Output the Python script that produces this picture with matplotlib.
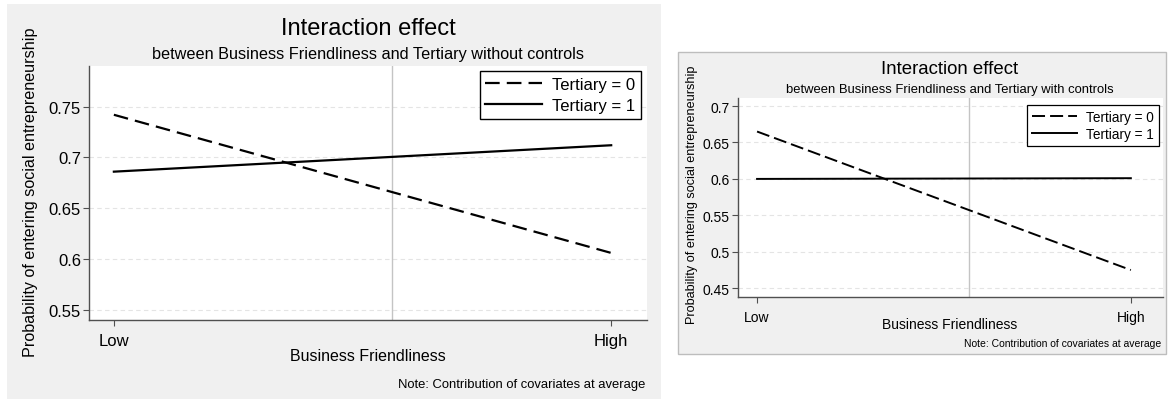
import matplotlib
matplotlib.use("Agg")
import matplotlib.pyplot as plt
from matplotlib.patches import Rectangle

plt.rcParams["font.family"] = ["Liberation Sans", "DejaVu Sans"]

W, H = 1168, 402

# data
levels = ["Low", "High"]
level_pos = [0, 1]
left_t0 = [0.742, 0.606]
left_t1 = [0.686, 0.712]
left_xline = 0.56
right_t0 = [0.665, 0.475]
right_t1 = [0.600, 0.601]
right_xline = 0.567
left_yticks = [0.55, 0.6, 0.65, 0.7, 0.75]
left_yticklabels = ["0.55", "0.6", "0.65", "0.7", "0.75"]
right_yticks = [0.45, 0.5, 0.55, 0.6, 0.65, 0.7]
right_yticklabels = ["0.45", "0.5", "0.55", "0.6", "0.65", "0.7"]


def box(x0, y0, x1, y1):
    # pixel box (top-left origin) -> figure fraction [l, b, w, h]
    return [x0 / W, (H - y1) / H, (x1 - x0) / W, (y1 - y0) / H]


def fx(x):
    return x / W


def fy(y):
    return (H - y) / H


fig = plt.figure(figsize=(W / 100, H / 100), dpi=100)
fig.patch.set_facecolor("white")

# panel backgrounds
l, b, w, h = box(7, 5, 661, 400)
fig.patches.append(Rectangle((l, b), w, h, transform=fig.transFigure,
                             facecolor="#f0f0f0", edgecolor="none", zorder=-5))
l, b, w, h = box(678, 53, 1166, 355)
fig.patches.append(Rectangle((l, b), w, h, transform=fig.transFigure,
                             facecolor="#f0f0f0", edgecolor="#bdbdbd", lw=1.0, zorder=-5))


def panel(ax, t0, t1, xline, yticks, yticklabels, ylim, xlim, fs, lw, dash):
    ax.set_facecolor("white")
    for yt in yticks:
        ax.axhline(yt, color="#e4e4e4", lw=0.8, ls=(0, (4, 3)), zorder=1)
    ax.axvline(xline, color="#c4c4c4", lw=1.0, zorder=1)
    ax.plot(level_pos, t0, color="black", lw=lw, dashes=dash, label="Tertiary = 0", zorder=3)
    ax.plot(level_pos, t1, color="black", lw=lw, label="Tertiary = 1", zorder=3)
    ax.set_xlim(*xlim)
    ax.set_ylim(*ylim)
    ax.set_xticks(level_pos)
    ax.set_xticklabels(levels)
    ax.set_yticks(yticks)
    ax.set_yticklabels(yticklabels)
    for s in ["top", "right"]:
        ax.spines[s].set_visible(False)
    for s in ["left", "bottom"]:
        ax.spines[s].set_color("#505050")
        ax.spines[s].set_linewidth(1.0)
    ax.tick_params(axis="both", colors="#505050", labelcolor="black",
                   length=4.3, width=0.8, labelsize=fs["tick"])
    ax.tick_params(axis="y", pad=1.5)
    ax.tick_params(axis="x", pad=5)


# left panel
axL = fig.add_axes(box(89, 67, 647, 321))
panel(axL, left_t0, left_t1, left_xline, left_yticks, left_yticklabels,
      (0.540, 0.790), (-0.05, 1.072), {"tick": 12}, 1.6, (6.6, 3.2))
axL.legend(loc="upper right", bbox_to_anchor=(1 - 6 / 558, 1 - 5 / 254), borderaxespad=0,
           fontsize=12, frameon=True, fancybox=False, edgecolor="black", framealpha=1,
           handlelength=3.4, handletextpad=0.6, labelspacing=0.35, borderpad=0.35)
axL.get_legend().get_frame().set_linewidth(1.0)
fig.text(fx(368), fy(29), "Interaction effect", ha="center", va="center", fontsize=17)
fig.text(fx(368), fy(55), "between Business Friendliness and Tertiary without controls",
         ha="center", va="center", fontsize=11.7)
fig.text(fx(368), fy(357), "Business Friendliness", ha="center", va="center", fontsize=11.5)
fig.text(fx(31), fy(192), "Probability of entering social entrepreneurship",
         ha="center", va="center", rotation=90, fontsize=11.6)
fig.text(fx(645), fy(385), "Note: Contribution of covariates at average",
         ha="right", va="center", fontsize=9.4)

# right panel
axR = fig.add_axes(box(738, 99, 1163, 298))
panel(axR, right_t0, right_t1, right_xline, right_yticks, right_yticklabels,
      (0.438, 0.711), (-0.051, 1.086), {"tick": 10}, 1.4, (6.7, 2.6))
axR.legend(loc="upper right", bbox_to_anchor=(1 - 4 / 425, 1 - 7 / 199), borderaxespad=0,
           fontsize=9.8, frameon=True, fancybox=False, edgecolor="black", framealpha=1,
           handlelength=3.3, handletextpad=0.7, labelspacing=0.25, borderpad=0.35)
axR.get_legend().get_frame().set_linewidth(0.9)
fig.text(fx(950), fy(70), "Interaction effect", ha="center", va="center", fontsize=13.4)
fig.text(fx(950), fy(90), "between Business Friendliness and Tertiary with controls",
         ha="center", va="center", fontsize=9.4)
fig.text(fx(950), fy(325), "Business Friendliness", ha="center", va="center", fontsize=10)
fig.text(fx(692), fy(195), "Probability of entering social entrepreneurship",
         ha="center", va="center", rotation=90, fontsize=9.1)
fig.text(fx(1161), fy(344), "Note: Contribution of covariates at average",
         ha="right", va="center", fontsize=7.5)

fig.savefig("out.png", dpi=100, facecolor=fig.get_facecolor())
